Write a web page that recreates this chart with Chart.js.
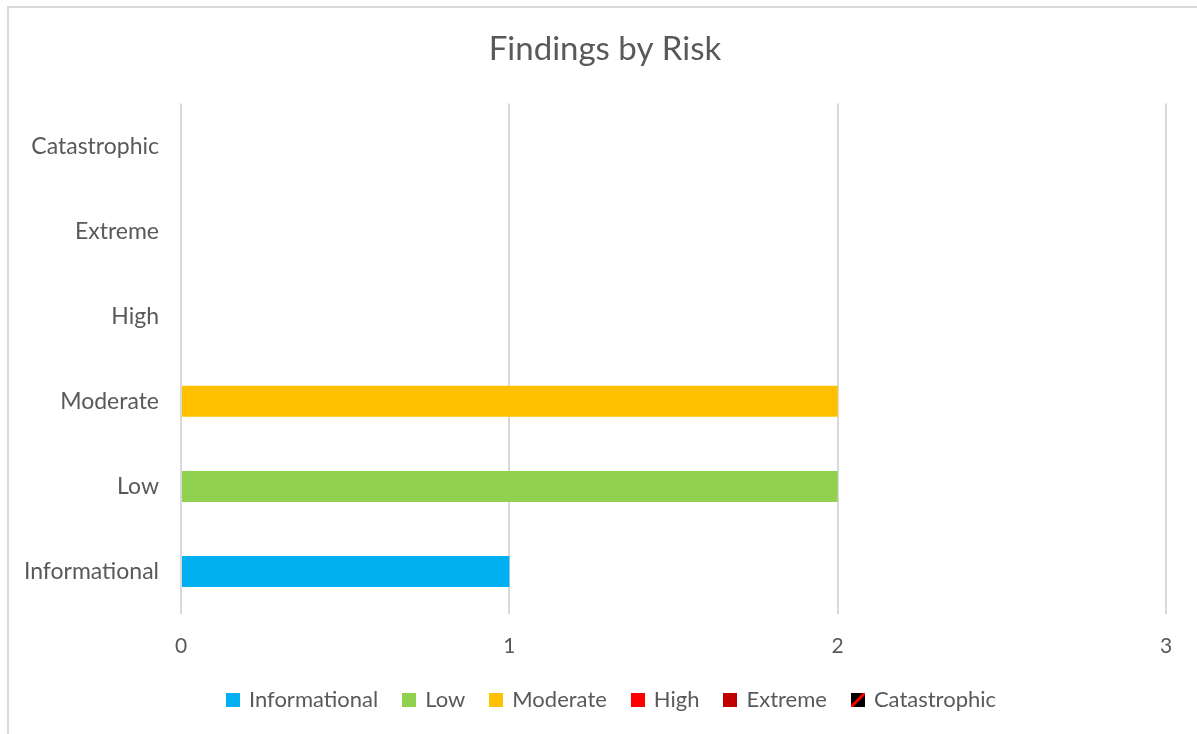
<!DOCTYPE html>
<html>
<head>
<meta charset="utf-8">
<script src="https://cdn.jsdelivr.net/npm/chart.js@4/dist/chart.umd.min.js"></script>
<style>
  html, body { margin: 0; padding: 0; background: #fff; overflow: hidden; }
  #frame { position: absolute; left: 7px; top: 6px; width: 1400px; height: 900px;
           border-left: 2px solid #d9d9d9; border-top: 2px solid #d9d9d9; box-sizing: border-box; }
  #wrap { position: absolute; left: 0; top: 0; width: 1197px; height: 734px; }
</style>
</head>
<body>
<div id="frame"></div>
<div id="wrap"><canvas id="c" width="1197" height="734"></canvas></div>
<script>
const categories = ['Informational', 'Low', 'Moderate', 'High', 'Extreme', 'Catastrophic'];
const findings = [1, 2, 2, 0, 0, 0];
const seriesColors = ['#00b0f0', '#92d050', '#ffc000', '#ff0000', '#c00000', 'pattern'];
const xTickValues = [0, 1, 2, 3];
const chartTitle = 'Findings by Risk';

function makeIcon(color) {
  const c = document.createElement('canvas');
  c.width = 14; c.height = 14;
  const g = c.getContext('2d');
  if (color === 'pattern') {
    g.fillStyle = '#000'; g.fillRect(0, 0, 14, 14);
    g.strokeStyle = '#ff0000'; g.lineWidth = 3;
    g.beginPath(); g.moveTo(0, 14); g.lineTo(14, 0); g.stroke();
  } else {
    g.fillStyle = color; g.fillRect(0, 0, 14, 14);
  }
  return c;
}
function makePattern(ctx) {
  const c = document.createElement('canvas');
  c.width = 10; c.height = 10;
  const g = c.getContext('2d');
  g.fillStyle = '#000'; g.fillRect(0, 0, 10, 10);
  g.strokeStyle = '#ff0000'; g.lineWidth = 2;
  g.beginPath(); g.moveTo(0, 10); g.lineTo(10, 0); g.stroke();
  return ctx.createPattern(c, 'repeat');
}

const ctx = document.getElementById('c').getContext('2d');
const icons = seriesColors.map(makeIcon);
const datasets = categories.map((name, i) => ({
  label: name,
  data: categories.map((_, j) => (j === i ? findings[i] : null)),
  backgroundColor: seriesColors[i] === 'pattern' ? makePattern(ctx) : seriesColors[i],
  borderWidth: 0,
  categoryPercentage: 1,
  barPercentage: 0.365
}));

const FONT = 'Lato, "Open Sans", sans-serif';
const GREY = '#595959';

// shift title and legend to be centred like the original (centred over full chart frame)
const centerShift = {
  id: 'centerShift',
  afterLayout(chart) {
    if (chart.titleBlock) { chart.titleBlock.left += 22; chart.titleBlock.right += 22; }
    if (chart.legend) { chart.legend.left += 29; chart.legend.right += 29; }
  }
};

new Chart(ctx, {
  type: 'bar',
  data: { labels: categories, datasets },
  plugins: [centerShift],
  options: {
    indexAxis: 'y',
    responsive: false,
    animation: false,
    layout: { padding: { left: 0, right: 31, top: 0, bottom: 13 } },
    plugins: {
      title: {
        display: true, text: chartTitle, color: GREY,
        font: { family: FONT, size: 33, weight: 'normal' },
        padding: { top: 30, bottom: 34 }
      },
      legend: {
        position: 'bottom',
        labels: {
          color: GREY, font: { family: FONT, size: 22 },
          usePointStyle: true,
          boxWidth: 10, boxHeight: 14,
          padding: 26,
          generateLabels(chart) {
            return chart.data.datasets.map((d, i) => ({
              text: d.label, datasetIndex: i, pointStyle: icons[i],
              fontColor: GREY, hidden: false, lineWidth: 0, strokeStyle: 'transparent'
            }));
          }
        }
      },
      tooltip: { enabled: false }
    },
    scales: {
      x: {
        stacked: true, min: 0, max: 3,
        afterBuildTicks(scale) { scale.ticks = xTickValues.map(v => ({ value: v })); },
        ticks: { color: GREY, font: { family: FONT, size: 21 }, padding: 20 },
        grid: { color: '#d9d9d9', lineWidth: 2, drawTicks: false },
        border: { display: false },
        afterFit(scale) { scale.height = 49; }
      },
      y: {
        stacked: true, reverse: true,
        ticks: { color: GREY, font: { family: FONT, size: 23 }, padding: 22 },
        grid: { display: false, drawTicks: false },
        border: { display: false },
        afterFit(scale) { scale.width = 181; }
      }
    }
  }
});
</script>
</body>
</html>
